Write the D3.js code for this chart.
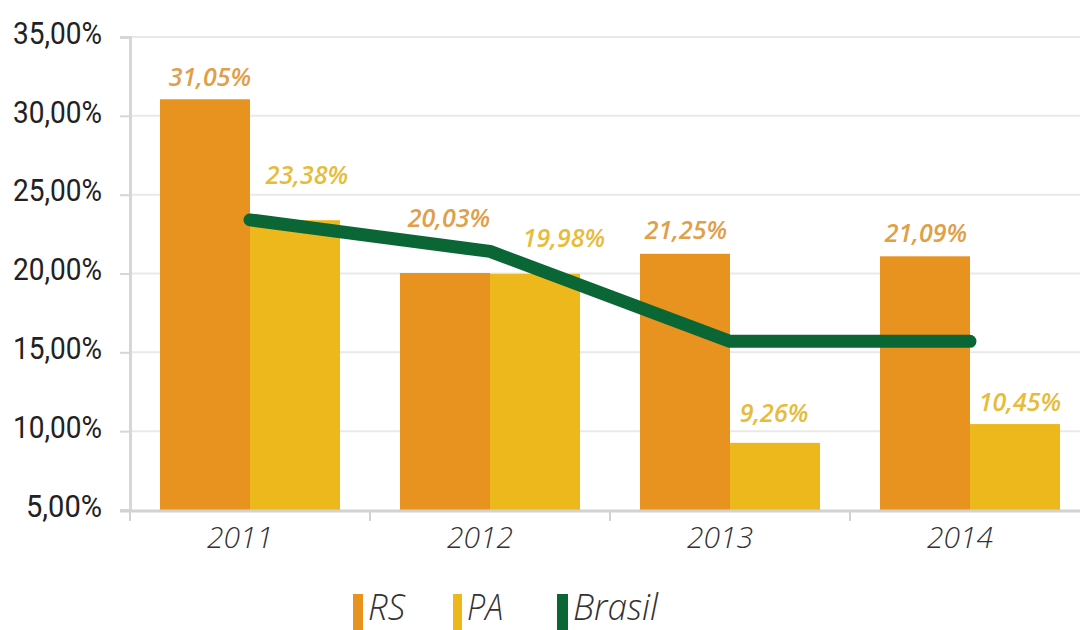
<!DOCTYPE html>
<html>
<head>
<meta charset="utf-8">
<script src="https://cdn.jsdelivr.net/npm/d3@7"></script>
<style>
  html, body { margin: 0; padding: 0; background: #fff; }
  svg { display: block; }
</style>
</head>
<body>
<svg id="chart" width="1080" height="630"></svg>
<script>
// Series data (percent)
const years = ["2011", "2012", "2013", "2014"];
const rsValues = [31.05, 20.03, 21.25, 21.09];
const paValues = [23.38, 19.98, 9.26, 10.45];
const brasilValues = [23.4, 21.4, 15.7, 15.7];
const yTicks = [5, 10, 15, 20, 25, 30, 35];
const legendLabels = ["RS", "PA", "Brasil"];

const colors = { RS: "#E8921F", PA: "#EDB81C", Brasil: "#0B6636" };
const labelColors = { RS: "#DFA049", PA: "#E6BC3A" };

// label placement tweaks (dx, lift above bar top) so the values clear the line
const labelShift = {
  RS: [[5, 22], [4, 55], [1, 24], [1, 23]],
  PA: [[12, 45], [29, 36], [-1, 30], [5, 22]]
};

const fmt = v => v.toFixed(2).replace(".", ",") + "%";

const svg = d3.select("#chart");
const plotLeft = 130, plotRight = 1090, plotTop = 37, plotBottom = 510;

const x = d3.scaleBand().domain(years).range([plotLeft, plotRight]).paddingInner(0).paddingOuter(0);
const inner = d3.scaleBand().domain(["RS", "PA"]).range([0, x.bandwidth()]).paddingInner(0).paddingOuter(1 / 3);
const y = d3.scaleLinear().domain([5, 35]).range([plotBottom, plotTop]);

// gridlines
svg.append("g")
  .selectAll("line")
  .data(yTicks.filter(t => t > 5))
  .join("line")
  .attr("x1", plotLeft).attr("x2", 1080)
  .attr("y1", d => y(d)).attr("y2", d => y(d))
  .attr("stroke", "#e9e9e9").attr("stroke-width", 2);

// y axis
const yAxis = svg.append("g")
  .attr("transform", `translate(${plotLeft},0)`)
  .call(d3.axisLeft(y).tickValues(yTicks).tickSize(10).tickPadding(18)
    .tickFormat(d => fmt(d)));
yAxis.select(".domain").attr("stroke", "#d6d6d6").attr("stroke-width", 3);
yAxis.selectAll(".tick line").attr("stroke", "#d6d6d6").attr("stroke-width", 2);
// condensed tick labels
yAxis.selectAll(".tick text")
  .attr("fill", "#222")
  .style("font-family", "Roboto, sans-serif")
  .style("font-size", "31px")
  .attr("dy", "0.2em")
  .attr("textLength", d => (d < 10 ? 76 : 89))
  .attr("lengthAdjust", "spacingAndGlyphs");

// bars
const groups = svg.append("g")
  .selectAll("g")
  .data(years)
  .join("g")
  .attr("transform", d => `translate(${x(d)},0)`);

groups.append("rect")
  .attr("x", inner("RS")).attr("width", inner.bandwidth())
  .attr("y", (d, i) => y(rsValues[i]))
  .attr("height", (d, i) => y(5) - y(rsValues[i]))
  .attr("fill", colors.RS);

groups.append("rect")
  .attr("x", inner("PA")).attr("width", inner.bandwidth())
  .attr("y", (d, i) => y(paValues[i]))
  .attr("height", (d, i) => y(5) - y(paValues[i]))
  .attr("fill", colors.PA);

// x axis
const xAxis = svg.append("g")
  .attr("transform", `translate(0,${plotBottom})`)
  .call(d3.axisBottom(x).tickSize(0).tickPadding(38));
xAxis.select(".domain").remove();
svg.append("line")
  .attr("x1", 120).attr("x2", 1080)
  .attr("y1", plotBottom + 1).attr("y2", plotBottom + 1)
  .attr("stroke", "#d2d2d2").attr("stroke-width", 3);
svg.append("g")
  .selectAll("line")
  .data(years)
  .join("line")
  .attr("x1", d => x(d)).attr("x2", d => x(d))
  .attr("y1", plotBottom).attr("y2", plotBottom + 11)
  .attr("stroke", "#d2d2d2").attr("stroke-width", 2);
xAxis.selectAll(".tick text")
  .attr("fill", "#333")
  .attr("dy", "0")
  .attr("dx", -10)
  .style("font-family", "'Open Sans', sans-serif")
  .style("font-style", "italic")
  .style("font-weight", 300)
  .style("font-size", "30px");

// Brasil line
const line = d3.line()
  .x((d, i) => x(years[i]) + x.bandwidth() / 2)
  .y(d => y(d));
svg.append("path")
  .datum(brasilValues)
  .attr("d", line)
  .attr("fill", "none")
  .attr("stroke", colors.Brasil)
  .attr("stroke-width", 13)
  .attr("stroke-linecap", "round")
  .attr("stroke-linejoin", "round");

// value labels
function addLabels(key, values) {
  svg.append("g")
    .selectAll("text")
    .data(values)
    .join("text")
    .attr("x", (d, i) => x(years[i]) + inner(key) + inner.bandwidth() / 2 + labelShift[key][i][0])
    .attr("y", (d, i) => y(d) - labelShift[key][i][1] + 9)
    .attr("text-anchor", "middle")
    .attr("fill", labelColors[key])
    .style("font-family", "'Open Sans', sans-serif")
    .style("font-style", "italic")
    .style("font-weight", 600)
    .style("font-size", "25px")
    .text(d => fmt(d));
}
addLabels("RS", rsValues);
addLabels("PA", paValues);

// legend
const legendX = [353, 453, 557];
const legendW = [10, 9, 11];
const legendTextW = [37, 36, 85];
const legend = svg.append("g")
  .selectAll("g")
  .data(legendLabels)
  .join("g")
  .attr("transform", (d, i) => `translate(${legendX[i]},0)`);
legend.append("rect")
  .attr("x", 0).attr("y", 594)
  .attr("width", (d, i) => legendW[i]).attr("height", 36)
  .attr("fill", d => colors[d]);
legend.append("text")
  .attr("x", (d, i) => legendW[i] + 5)
  .attr("y", 620)
  .attr("fill", "#333")
  .style("font-family", "'Open Sans', sans-serif")
  .style("font-style", "italic")
  .style("font-weight", 300)
  .style("font-size", "36px")
  .attr("textLength", (d, i) => legendTextW[i])
  .attr("lengthAdjust", "spacingAndGlyphs")
  .text(d => d);
</script>
</body>
</html>
